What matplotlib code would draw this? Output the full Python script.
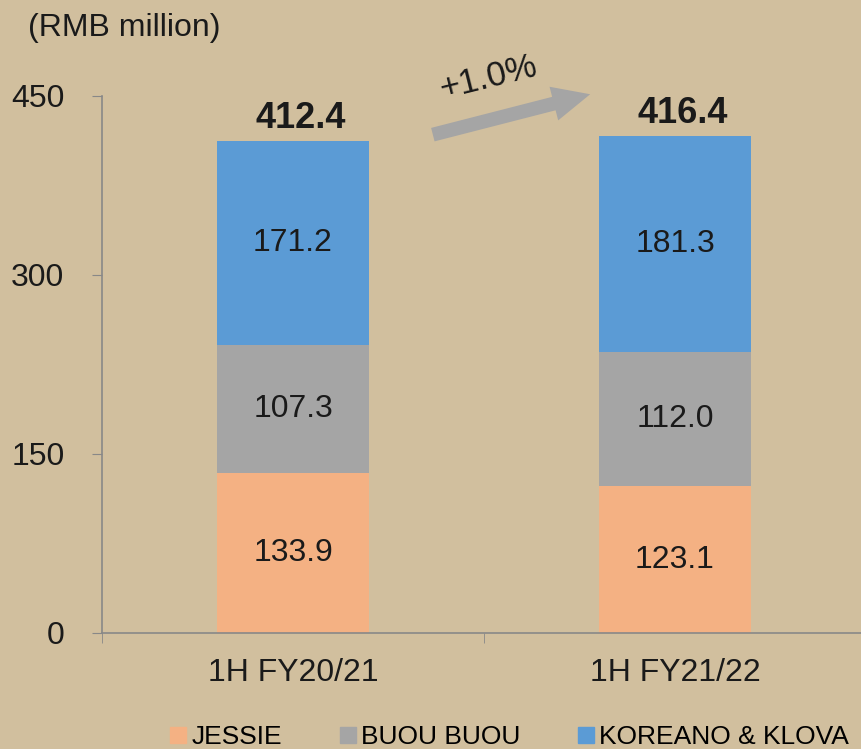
import matplotlib.pyplot as plt
from matplotlib.lines import Line2D

categories = ['1H FY20/21', '1H FY21/22']
jessie = [133.9, 123.1]
buou = [107.3, 112.0]
koreano = [171.2, 181.3]
totals = [412.4, 416.4]
series_names = ['JESSIE', 'BUOU BUOU', 'KOREANO & KLOVA']
colors = ['#F4B183', '#A5A5A5', '#5B9BD5']
bg = '#D1BF9E'
growth = '+1.0%'

plt.rcParams['font.family'] = 'Liberation Sans'

fig = plt.figure(figsize=(8.61, 7.49), dpi=100, facecolor=bg)
ax = fig.add_axes([0.1185, 0.1549, 0.8873, 0.717])
ax.set_facecolor(bg)

x = range(len(categories))
bottom = [0, 0]
for vals, col in zip([jessie, buou, koreano], colors):
    ax.bar(x, vals, width=0.4, bottom=bottom, color=col)
    for i, v in enumerate(vals):
        ax.text(i, bottom[i] + v / 2, f'{v:.1f}', ha='center', va='center',
                fontsize=23, color='#1a1a1a')
    bottom = [b + v for b, v in zip(bottom, vals)]

# totals above bars
for i, t in enumerate(totals):
    ax.text(i + 0.02, t + 4, f'{t:.1f}', ha='center', va='bottom', fontsize=26,
            fontweight='bold', color='#1a1a1a')

ax.set_xlim(-0.5, 1.5)
ax.set_ylim(0, 450)
ax.set_yticks([0, 150, 300, 450])
ax.tick_params(axis='y', labelsize=23, colors='#888888', labelcolor='#1a1a1a',
               length=7, direction='out', pad=20)
ax.set_xticks([-0.5, 0.5, 1.5], minor=True)
ax.set_xticks(list(x))
ax.set_xticklabels(categories, fontsize=23, color='#1a1a1a')
ax.tick_params(axis='x', which='major', length=0, pad=18)
ax.tick_params(axis='x', which='minor', length=7, color='#888888')
for s in ['top', 'right']:
    ax.spines[s].set_visible(False)
for s in ['left', 'bottom']:
    ax.spines[s].set_color('#888888')
    ax.spines[s].set_linewidth(1.2)

# growth arrow
ax.annotate('', xy=(0.785, 452), xytext=(0.359, 417), xycoords='data',
            annotation_clip=False,
            arrowprops=dict(arrowstyle='simple,head_length=1.35,head_width=1.25,tail_width=0.5',
                            mutation_scale=20, color='#A5A5A5', lw=0))
ax.text(0.51, 465, growth, ha='center', va='center', rotation=14, fontsize=25,
        color='#1a1a1a', clip_on=False)

fig.text(0.033, 0.963, '(RMB million)', fontsize=23, color='#1a1a1a', va='center')

handles = [Line2D([], [], marker='s', linestyle='', markersize=12, color=c) for c in colors]
fig.legend(handles, series_names, loc='center', bbox_to_anchor=(0.592, 0.016), ncol=3,
           frameon=False, handlelength=0.6, handletextpad=0.2, columnspacing=2.2,
           prop={'size': 19})

fig.savefig('out.png', dpi=100, facecolor=bg)
